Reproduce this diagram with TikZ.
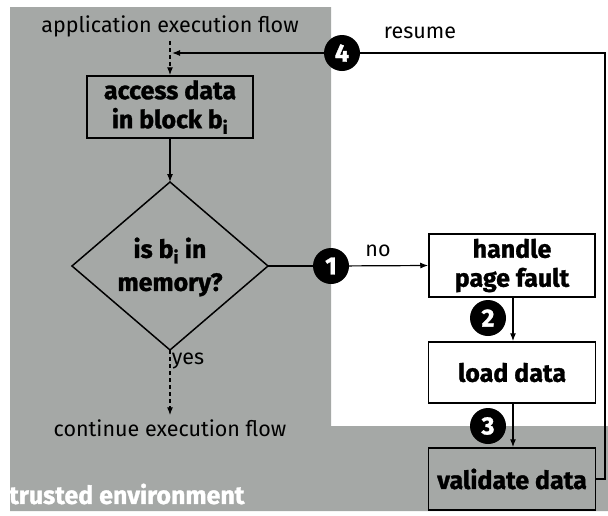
\documentclass[tikz,border=0pt]{standalone}
\usepackage{fontspec}
\setmainfont{Fira Sans}[BoldFeatures={FakeBold=1.2}]
\usetikzlibrary{arrows.meta}
\definecolor{trustgray}{RGB}{165,168,166}
\begin{document}
\begin{tikzpicture}[x=1pt,y=-1pt,
  box/.style={draw,line width=1.5pt,font=\bfseries\fontsize{25}{29}\selectfont,align=center,inner sep=0pt},
  num/.style={circle,fill=black,text=white,font=\bfseries\fontsize{25}{25}\selectfont,minimum size=36pt,inner sep=0pt},
  lbl/.style={font=\fontsize{21.5}{24}\selectfont,inner sep=0pt},
  arr/.style={-{Latex[length=8pt,width=6pt]},line width=1.2pt},
  plain/.style={line width=1.2pt},
  dsh/.style={dash pattern=on 4pt off 3pt}
]
\useasboundingbox (0,0) rectangle (608,515);
\fill[trustgray] (10,7) -- (331,7) -- (331,426) -- (608,426) -- (608,511) -- (10,511) -- cycle;

% boxes
\node[box,minimum width=166pt,minimum height=62pt] (access) at (170,107) {access data\\in block b\textsubscript{i}};
\node[box,fill=white,minimum width=166pt,minimum height=63pt] (handle) at (512,265.5) {handle\\page fault};
\node[box,fill=white,minimum width=167pt,minimum height=61pt] (load) at (512,372.5) {load data};
\node[box,minimum width=167pt,minimum height=62pt] (validate) at (512,479) {validate data};

% decision
\coordinate (dtop) at (170,182);
\coordinate (dright) at (268,266);
\coordinate (dbottom) at (170,350);
\coordinate (dleft) at (72,266);
\draw[line width=1.5pt,line join=miter] (dtop) -- (dright) -- (dbottom) -- (dleft) -- cycle;
\node[font=\bfseries\fontsize{25}{33}\selectfont,align=center,inner sep=0pt] (question) at (170,267) {is b\textsubscript{i} in\\memory?};

% texts
\node[lbl] (appflow) at (170,26) {application execution flow};
\node[lbl] (contflow) at (170,428) {continue execution flow};
\node[lbl] (resume) at (420,33) {resume};
\node[lbl] (no) at (378,251) {no};
\node[lbl] (yes) at (188,361) {yes};
\node[font=\bfseries\fontsize{25}{28}\selectfont,text=white,anchor=west,inner sep=0pt] (trusted) at (9,494) {trusted environment};

% numbered markers
\node[num] (c1) at (331,266) {1};
\node[num] (c2) at (488,318) {2};
\node[num] (c3) at (488,426) {3};
\node[num] (c4) at (342,53) {4};

% coordinates for resume loop
\coordinate (join) at (170,53);
\coordinate (rc1) at (605,479);
\coordinate (rc2) at (605,53);

% connectors
\draw[arr,dsh] ([yshift=-4pt]appflow.south) -- (access.north);
\draw[arr] (access.south) -- (dtop);
\draw[plain] (dright) -- (c1);
\draw[arr] (c1) -- (handle.west);
\draw[arr] ([xshift=1pt]handle.south) -- ([xshift=1pt]load.north);
\draw[arr] ([xshift=1pt]load.south) -- ([xshift=1pt]validate.north);
\draw[arr,dsh] (dbottom) -- ([yshift=4pt]contflow.north);
\draw[plain] (validate.east) -- (rc1) -- (rc2) -- (c4);
\draw[arr] (c4) -- ([xshift=2pt]join);
\end{tikzpicture}
\end{document}
